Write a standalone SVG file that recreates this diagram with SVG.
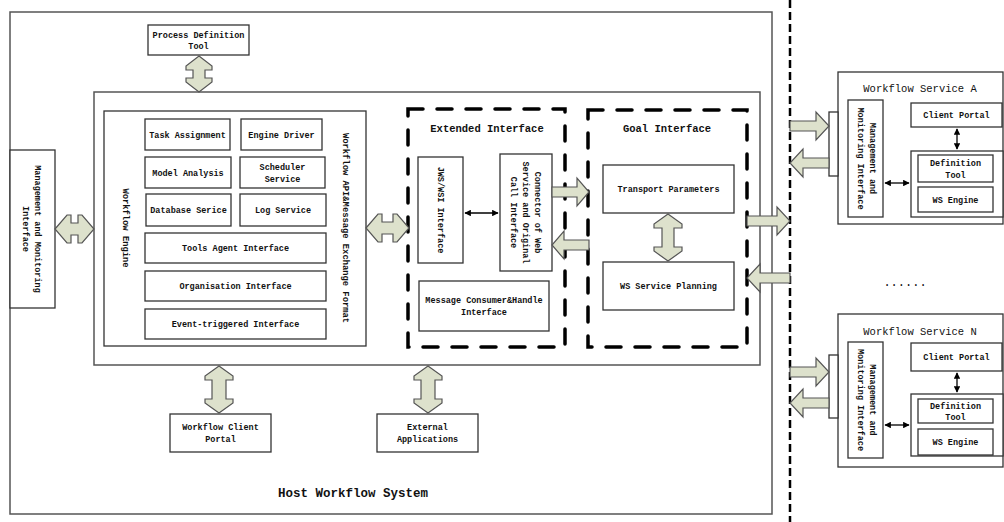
<svg xmlns="http://www.w3.org/2000/svg" width="1004" height="522" viewBox="0 0 1004 522">
<style>
.bx{fill:#fff;stroke:#333;stroke-width:1.3}
.gb{fill:none;stroke:#555;stroke-width:1.5}
.ds{fill:none;stroke:#000;stroke-width:3.5;stroke-dasharray:15 14;stroke-linecap:round}
.ar{fill:#dde1cc;stroke:#555;stroke-width:1.2;stroke-linejoin:miter}
.t{font-family:"Liberation Mono","DejaVu Sans Mono",monospace;font-size:8.5px;font-weight:bold;fill:#111;text-anchor:middle}
.h{font-family:"Liberation Mono","DejaVu Sans Mono",monospace;font-size:10.5px;font-weight:bold;fill:#111;text-anchor:middle}
.s{font-family:"Liberation Mono","DejaVu Sans Mono",monospace;font-size:10.5px;fill:#111;text-anchor:middle}
.ln{stroke:#000;stroke-width:1.3;fill:none}
</style>
<defs>
<marker id="ah" viewBox="0 0 10 10" refX="9" refY="5" markerWidth="5" markerHeight="5" orient="auto-start-reverse" markerUnits="strokeWidth">
<path d="M0,0 L10,5 L0,10 Z" fill="#000"/>
</marker>
</defs>
<rect width="1004" height="522" fill="#fff"/>

<g id="host">
<rect class="gb" x="10" y="12" width="762" height="502"/>
<text class="h" x="353" y="497" style="font-size:12.5px">Host Workflow System</text>
</g>
<g id="engine-outer"><rect class="gb" x="94" y="92" width="666" height="273"/></g>

<g id="process-definition-tool">
<rect class="bx" x="148" y="25" width="101" height="30"/>
<text class="t" x="198.5" y="38">Process Definition</text>
<text class="t" x="198.5" y="49">Tool</text>
</g>

<g id="mgmt-left">
<rect class="bx" x="10" y="150" width="45" height="158"/>
<text class="t" transform="translate(32,229) rotate(90)"><tspan x="0" y="-3">Management and Monitoring</tspan><tspan x="0" y="9">Interface</tspan></text>
</g>

<g id="workflow-engine">
<rect class="bx" x="104" y="111" width="262" height="235"/>
<text class="t" transform="translate(123,228) rotate(90)" style="font-size:8.8px">Workflow Engine</text>
<text class="t" transform="translate(343,228) rotate(90)" style="font-size:8.8px">Workflow API&amp;Message Exchange Format</text>
</g>
<g id="task-assignment"><rect class="bx" x="145" y="119" width="85" height="31"/><text class="t" x="187.5" y="138">Task Assignment</text></g>
<g id="engine-driver"><rect class="bx" x="241" y="119" width="81" height="31"/><text class="t" x="281.5" y="138">Engine Driver</text></g>
<g id="model-analysis"><rect class="bx" x="145" y="157" width="86" height="31"/><text class="t" x="188" y="176">Model Analysis</text></g>
<g id="scheduler-service"><rect class="bx" x="240" y="157" width="85" height="31"/><text class="t" x="282.5" y="170">Scheduler</text><text class="t" x="282.5" y="182">Service</text></g>
<g id="database-service"><rect class="bx" x="146" y="194" width="85" height="32"/><text class="t" x="188.5" y="213">Database Serice</text></g>
<g id="log-service"><rect class="bx" x="240" y="194" width="86" height="32"/><text class="t" x="283" y="213">Log Service</text></g>
<g id="tools-agent"><rect class="bx" x="145" y="233" width="181" height="30"/><text class="t" x="235.5" y="251">Tools Agent Interface</text></g>
<g id="organisation"><rect class="bx" x="145" y="271" width="181" height="30"/><text class="t" x="235.5" y="289">Organisation Interface</text></g>
<g id="event-triggered"><rect class="bx" x="145" y="309" width="181" height="30"/><text class="t" x="235.5" y="327">Event-triggered Interface</text></g>

<g id="extended-interface">
<rect class="ds" x="408" y="109" width="157" height="238"/>
<text class="h" x="487" y="132">Extended Interface</text>
</g>
<g id="jws-interface"><rect class="bx" x="418" y="157" width="45" height="106"/><text class="t" transform="translate(440.5,210) rotate(90)" y="3">JWS/WSI Interface</text></g>
<g id="connector"><rect class="bx" x="500" y="154" width="52" height="117"/>
<text class="t" transform="translate(526,212.5) rotate(90)"><tspan x="0" y="-9">Connector of Web</tspan><tspan x="0" y="3">Service and Original</tspan><tspan x="0" y="15">Call Interface</tspan></text></g>
<g id="message-consumer"><rect class="bx" x="419" y="281" width="130" height="50"/><text class="t" x="484" y="303">Message Consumer&amp;Handle</text><text class="t" x="484" y="315">Interface</text></g>

<g id="goal-interface">
<rect class="ds" x="588" y="110" width="159" height="237"/>
<text class="h" x="667" y="132">Goal Interface</text>
</g>
<g id="transport-parameters"><rect class="bx" x="603" y="165" width="131" height="48"/><text class="t" x="668.5" y="192">Transport Parameters</text></g>
<g id="ws-service-planning"><rect class="bx" x="603" y="262" width="131" height="48"/><text class="t" x="668.5" y="289">WS Service Planning</text></g>

<g id="workflow-client-portal"><rect class="bx" x="170" y="414" width="101" height="38"/><text class="t" x="220.5" y="430">Workflow Client</text><text class="t" x="220.5" y="442">Portal</text></g>
<g id="external-applications"><rect class="bx" x="377" y="414" width="101" height="38"/><text class="t" x="427.5" y="430">External</text><text class="t" x="427.5" y="442">Applications</text></g>

<g id="workflow-service-a">
<rect class="bx" x="838" y="72" width="165" height="152"/>
<rect class="bx" x="829" y="112" width="9" height="64"/>
<text class="s" x="920" y="92">Workflow Service A</text>
<rect class="bx" x="848" y="100" width="35" height="117"/>
<text class="t" transform="translate(865.5,158.5) rotate(90)"><tspan x="0" y="-4">Management and</tspan><tspan x="0" y="8">Monitoring Interface</tspan></text>
<rect class="bx" x="911" y="103" width="91" height="24"/><text class="t" x="956.5" y="118">Client Portal</text>
<rect class="bx" x="911" y="151" width="92" height="66"/>
<rect class="bx" x="918" y="155" width="75" height="27"/><text class="t" x="955.5" y="166">Definition</text><text class="t" x="955.5" y="178">Tool</text>
<rect class="bx" x="918" y="187" width="75" height="25"/><text class="t" x="955.5" y="203">WS Engine</text>
</g>

<g id="workflow-service-n">
<rect class="bx" x="838" y="314" width="165" height="153"/>
<rect class="bx" x="829" y="355" width="9" height="63"/>
<text class="s" x="920" y="335">Workflow Service N</text>
<rect class="bx" x="848" y="342" width="35" height="116"/>
<text class="t" transform="translate(865.5,400) rotate(90)"><tspan x="0" y="-4">Management and</tspan><tspan x="0" y="8">Monitoring Interface</tspan></text>
<rect class="bx" x="911" y="343" width="91" height="28"/><text class="t" x="956.5" y="360">Client Portal</text>
<rect class="bx" x="911" y="394" width="92" height="62"/>
<rect class="bx" x="918" y="399" width="75" height="24"/><text class="t" x="955.5" y="409">Definition</text><text class="t" x="955.5" y="420">Tool</text>
<rect class="bx" x="918" y="429" width="75" height="26"/><text class="t" x="955.5" y="445">WS Engine</text>
</g>

<g id="ellipsis"><text class="s" x="905" y="286" style="font-size:12px">......</text></g>

<g id="connectors">
<line x1="790" y1="0" x2="790" y2="522" stroke="#000" stroke-width="2.5" stroke-dasharray="8 4"/>
<path class="ar" d="M199,56 L212,66 L212,70 L205,70 L205,78 L212,78 L212,82 L199,92 L186,82 L186,78 L193,78 L193,70 L186,70 L186,66 Z"/>
<path class="ar" d="M219,366 L233,376 L233,380 L226,380 L226,399 L233,399 L233,403 L219,413 L205,403 L205,399 L212,399 L212,380 L205,380 L205,376 Z"/>
<path class="ar" d="M428,366 L442,376 L442,380 L435,380 L435,399 L442,399 L442,403 L428,413 L414,403 L414,399 L421,399 L421,380 L414,380 L414,376 Z"/>
<path class="ar" d="M668,214 L682,224 L682,228 L674,228 L674,247 L682,247 L682,251 L668,261 L654,251 L654,247 L662,247 L662,228 L654,228 L654,224 Z"/>
<path class="ar" d="M55,229 L67,215 L71,215 L71,223 L78,223 L78,215 L82,215 L94,229 L82,243 L78,243 L78,235 L71,235 L71,243 L67,243 Z"/>
<path class="ar" d="M366,228 L378,214 L382,214 L382,222 L393,222 L393,214 L397,214 L409,228 L397,242 L393,242 L393,234 L382,234 L382,242 L378,242 Z"/>
<path class="ar" d="M552,187 L577,187 L577,178 L589,192 L577,206 L577,197 L552,197 Z"/>
<path class="ar" d="M589,240 L564,240 L564,231 L552,245 L564,259 L564,250 L589,250 Z"/>
<path class="ar" d="M747,216 L777,216 L777,207 L790,221 L777,235 L777,226 L747,226 Z"/>
<path class="ar" d="M790,273 L760,273 L760,264 L747,278 L760,292 L760,283 L790,283 Z"/>
<path class="ar" d="M790,121 L816,121 L816,112 L829,126 L816,140 L816,131 L790,131 Z"/>
<path class="ar" d="M829,158 L803,158 L803,149 L790,163 L803,177 L803,168 L829,168 Z"/>
<path class="ar" d="M790,367 L816,367 L816,358 L829,372 L816,386 L816,377 L790,377 Z"/>
<path class="ar" d="M829,398 L803,398 L803,389 L790,403 L803,417 L803,408 L829,408 Z"/>
<line class="ln" x1="465" y1="213" x2="498" y2="213" marker-start="url(#ah)" marker-end="url(#ah)"/>
<line class="ln" x1="885" y1="183" x2="909" y2="183" marker-start="url(#ah)" marker-end="url(#ah)"/>
<line class="ln" x1="885" y1="425" x2="909" y2="425" marker-start="url(#ah)" marker-end="url(#ah)"/>
<line class="ln" x1="957" y1="129" x2="957" y2="149" marker-start="url(#ah)" marker-end="url(#ah)"/>
<line class="ln" x1="957" y1="373" x2="957" y2="392" marker-start="url(#ah)" marker-end="url(#ah)"/>
</g>
</svg>
